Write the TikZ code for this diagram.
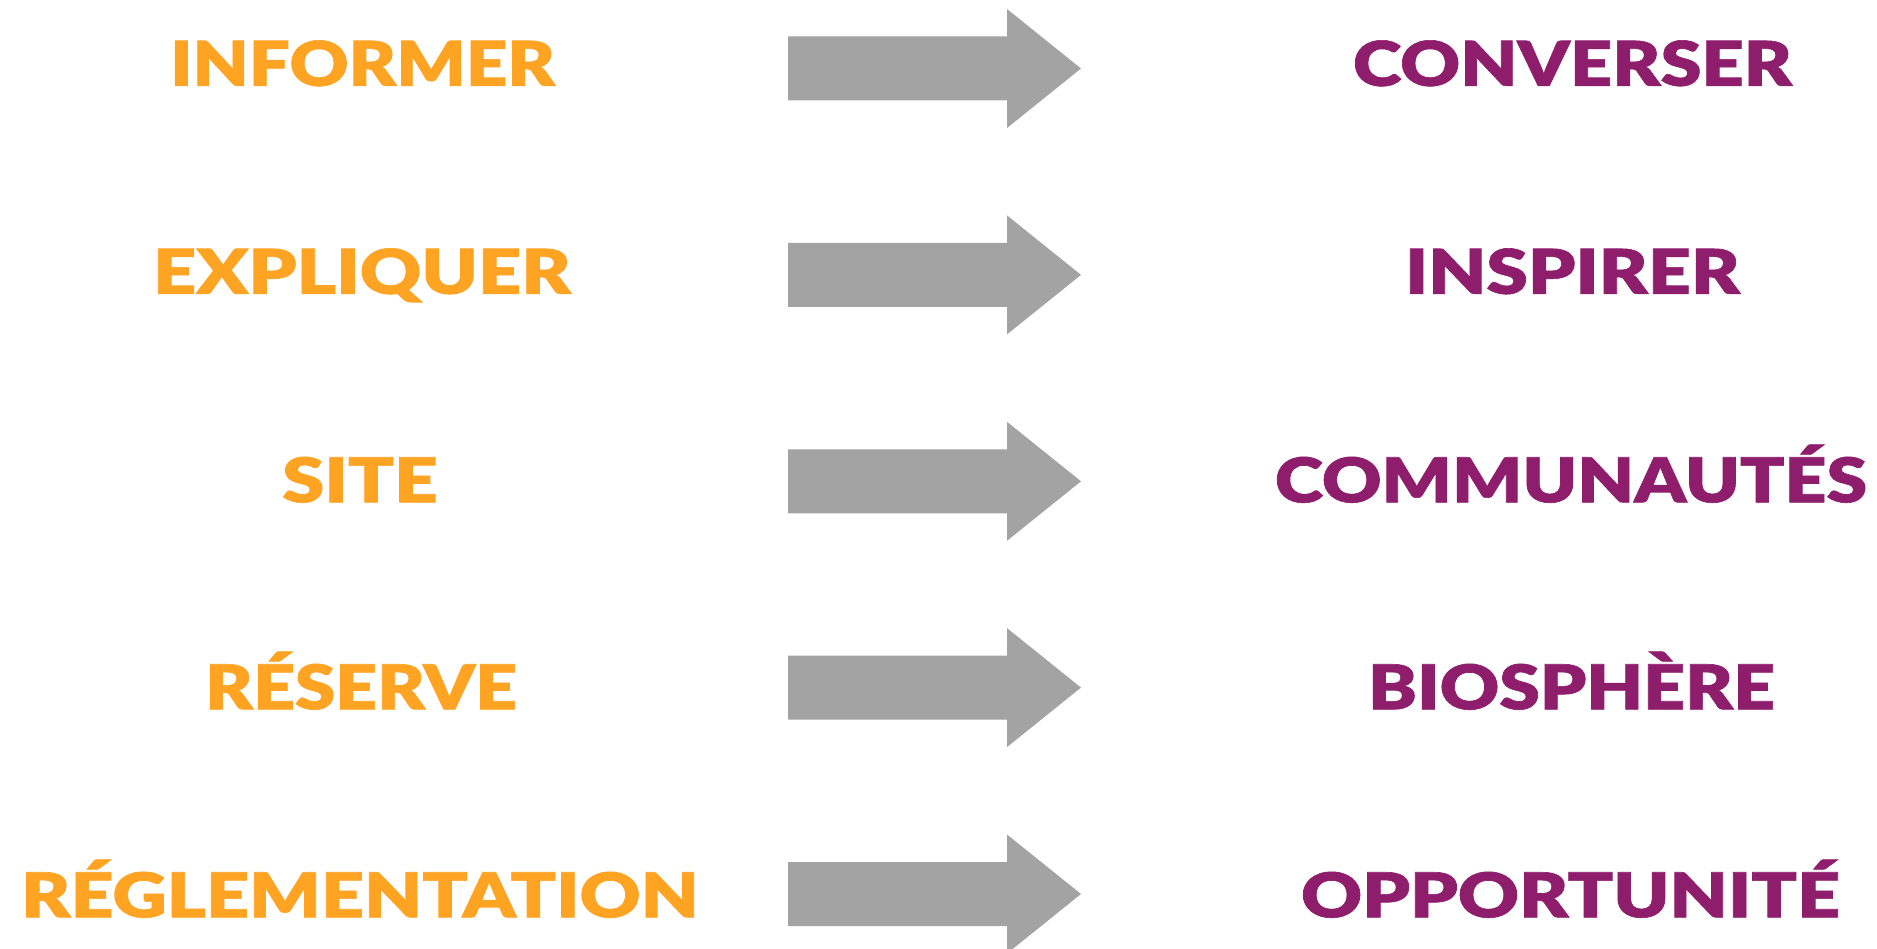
\documentclass[tikz,border=0pt]{standalone}
\usepackage{fontspec}
\newfontfamily\gf{Lato Black}[FakeBold=1]
\definecolor{lorange}{HTML}{FFA323}
\definecolor{rpurple}{HTML}{8E1D6C}
\definecolor{agray}{HTML}{A3A3A3}
\newcommand{\capbox}[2]{\resizebox{\fpeval{#1*1.0}pt}{45pt}{\raisebox{0pt}[\fontcharht\font`\H][0pt]{#2}}}
\tikzset{
  lefttext/.style={text=lorange, font=\gf\fontsize{60}{60}\selectfont, inner sep=0pt, anchor=south},
  righttext/.style={text=rpurple, font=\gf\fontsize{60}{60}\selectfont, inner sep=0pt, anchor=south},
  blockarrow/.style={fill=agray}
}
\begin{document}
\begin{tikzpicture}[x=1pt,y=-1pt]
\useasboundingbox (0,0) rectangle (1877,949);
\foreach \c in {68.5,274.9,481.3,687.6,894}{
  \fill[blockarrow] (788,\c-32) -- (1007,\c-32) -- (1007,\c-59.5) -- (1081,\c) -- (1007,\c+59.5) -- (1007,\c+32) -- (788,\c+32) -- cycle;
}
\node[lefttext] (l1) at (362.5,86) {\capbox{385}{INFORMER}};
\node[lefttext] (l2) at (362,294) {\capbox{418}{EXPLIQUER}};
\node[lefttext] (l3) at (360,502.5) {\capbox{155.5}{SITE}};
\node[lefttext] (l4) at (361,709.5) {\capbox{312}{RÉSERVE}};
\node[lefttext] (l5) at (360,917.5) {\capbox{677.5}{RÉGLEMENTATION}};
\node[righttext] (r1) at (1572.5,86) {\capbox{439}{CONVERSER}};
\node[righttext] (r2) at (1572.5,294) {\capbox{335}{INSPIRER}};
\node[righttext] (r3) at (1571,502.5) {\capbox{592}{COMMUNAUTÉS}};
\node[righttext] (r4) at (1571.5,709.5) {\capbox{407}{BIOSPHÈRE}};
\node[righttext] (r5) at (1570.5,917.5) {\capbox{539}{OPPORTUNITÉ}};
\end{tikzpicture}
\end{document}
